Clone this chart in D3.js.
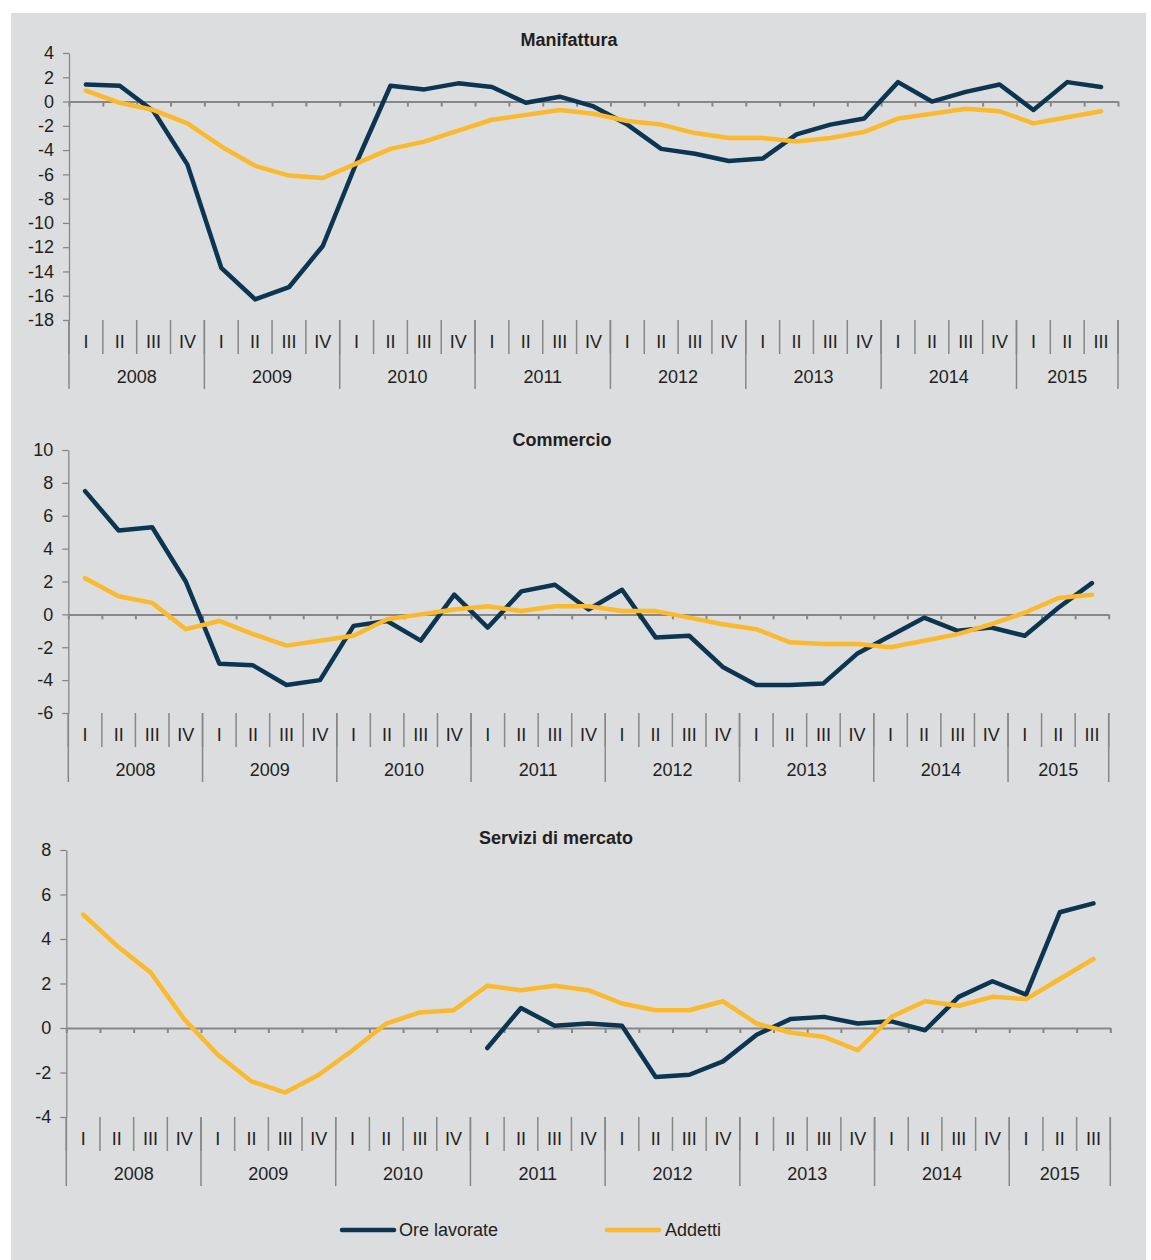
<!DOCTYPE html>
<html>
<head>
<meta charset="utf-8">
<script src="https://cdn.jsdelivr.net/npm/d3@7/dist/d3.min.js"></script>
<style>
  html, body { margin: 0; padding: 0; background: #ffffff; }
  svg { display: block; }
  text { font-family: "Liberation Sans", Arial, sans-serif; fill: #231f20; }
</style>
</head>
<body>
<svg id="chart" width="1151" height="1260"></svg>
<script>
// ---------- DATA ----------
const years = ["2008", "2009", "2010", "2011", "2012", "2013", "2014", "2015"];
const quartersPerYear = [4, 4, 4, 4, 4, 4, 4, 3];
const quarterLabels = ["I", "II", "III", "IV"];

const seriesNames = ["Ore lavorate", "Addetti"];

const titles = ["Manifattura", "Commercio", "Servizi di mercato"];

const manifatturaOre = [1.4, 1.3, -0.8, -5.2, -13.7, -16.3, -15.3, -11.9, -5.0, 1.3, 1.0, 1.5, 1.2, -0.1, 0.4, -0.4, -1.9, -3.9, -4.3, -4.9, -4.7, -2.7, -1.9, -1.4, 1.6, 0.0, 0.8, 1.4, -0.7, 1.6, 1.2];
const manifatturaAddetti = [0.9, -0.1, -0.7, -1.8, -3.7, -5.3, -6.1, -6.3, -5.1, -3.9, -3.3, -2.4, -1.5, -1.1, -0.7, -1.0, -1.6, -1.9, -2.6, -3.0, -3.0, -3.3, -3.0, -2.5, -1.4, -1.0, -0.6, -0.8, -1.8, -1.3, -0.8];

const commercioOre = [7.5, 5.1, 5.3, 2.0, -3.0, -3.1, -4.3, -4.0, -0.7, -0.4, -1.6, 1.2, -0.8, 1.4, 1.8, 0.3, 1.5, -1.4, -1.3, -3.2, -4.3, -4.3, -4.2, -2.4, -1.3, -0.2, -1.0, -0.8, -1.3, 0.4, 1.9];
const commercioAddetti = [2.2, 1.1, 0.7, -0.9, -0.4, -1.2, -1.9, -1.6, -1.3, -0.3, 0.0, 0.3, 0.5, 0.2, 0.5, 0.5, 0.2, 0.2, -0.2, -0.6, -0.9, -1.7, -1.8, -1.8, -2.0, -1.6, -1.2, -0.6, 0.1, 1.0, 1.2];

const serviziOre = [null, null, null, null, null, null, null, null, null, null, null, null, -0.9, 0.9, 0.1, 0.2, 0.1, -2.2, -2.1, -1.5, -0.3, 0.4, 0.5, 0.2, 0.3, -0.1, 1.4, 2.1, 1.5, 5.2, 5.6];
const serviziAddetti = [5.1, 3.7, 2.5, 0.4, -1.2, -2.4, -2.9, -2.1, -1.0, 0.2, 0.7, 0.8, 1.9, 1.7, 1.9, 1.7, 1.1, 0.8, 0.8, 1.2, 0.2, -0.2, -0.4, -1.0, 0.5, 1.2, 1.0, 1.4, 1.3, 2.2, 3.1];

const manifatturaTicks = [4, 2, 0, -2, -4, -6, -8, -10, -12, -14, -16, -18];
const commercioTicks = [10, 8, 6, 4, 2, 0, -2, -4, -6];
const serviziTicks = [8, 6, 4, 2, 0, -2, -4];

// ---------- STYLE / LAYOUT ----------
const colorOre = "#0b3550";
const colorAdd = "#fbb92d";
const axisColor = "#878787";
const bgColor = "#dcdddf";
const FONT = 18;

// build categories
const categories = [];
years.forEach((y, yi) => {
  for (let q = 0; q < quartersPerYear[yi]; q++) categories.push({ year: y, q: quarterLabels[q], key: y + "-" + q });
});

const svg = d3.select("#chart");
svg.append("rect").attr("x", 11).attr("y", 13).attr("width", 1135).attr("height", 1247).attr("fill", bgColor);

const panels = [
  { title: titles[0], titleX: 569, titleY: 40, x0: 69, x1: 1118, yTop: 53, yBot: 320, ticks: manifatturaTicks, ore: manifatturaOre, add: manifatturaAddetti },
  { title: titles[1], titleX: 562, titleY: 440, x0: 68.3, x1: 1108.7, yTop: 450, yBot: 713, ticks: commercioTicks, ore: commercioOre, add: commercioAddetti },
  { title: titles[2], titleX: 556, titleY: 838, x0: 66.3, x1: 1110.3, yTop: 850, yBot: 1117, ticks: serviziTicks, ore: serviziOre, add: serviziAddetti }
];

panels.forEach(p => {
  const g = svg.append("g");
  const y = d3.scaleLinear().domain([d3.min(p.ticks), d3.max(p.ticks)]).range([p.yBot, p.yTop]);
  const x = d3.scaleBand().domain(categories.map(c => c.key)).range([p.x0, p.x1]).padding(0);
  const xb = d3.scaleLinear().domain([0, categories.length]).range([p.x0, p.x1]);
  const bw = x.bandwidth();

  // title
  g.append("text").attr("x", p.titleX).attr("y", p.titleY).attr("dy", "0.35em")
    .attr("text-anchor", "middle").attr("font-weight", "bold").attr("font-size", FONT).text(p.title);

  // y axis
  const yAxis = d3.axisLeft(y).tickValues(p.ticks).tickSize(6).tickSizeOuter(0).tickPadding(9).tickFormat(d => String(d));
  const ya = g.append("g").attr("transform", `translate(${p.x0},0)`).call(yAxis);
  ya.select(".domain").attr("stroke", axisColor).attr("stroke-width", 1.3);
  ya.selectAll(".tick line").attr("stroke", axisColor).attr("stroke-width", 1.3);
  ya.selectAll(".tick text").attr("font-size", FONT).attr("fill", "#231f20")
    .style("font-family", '"Liberation Sans", Arial, sans-serif');

  // zero axis with boundary ticks
  const xAxis = d3.axisBottom(xb).tickValues(d3.range(categories.length + 1)).tickSize(5).tickSizeOuter(0).tickFormat("");
  const xa = g.append("g").attr("transform", `translate(0,${y(0)})`).call(xAxis);
  xa.select(".domain").attr("stroke", axisColor).attr("stroke-width", 2);
  xa.selectAll(".tick line").attr("stroke", axisColor).attr("stroke-width", 2);

  // category separators (quarter level)
  const rowH = 34;
  g.selectAll(".qsep").data(d3.range(categories.length + 1)).join("line")
    .attr("x1", i => xb(i)).attr("x2", i => xb(i))
    .attr("y1", p.yBot).attr("y2", p.yBot + rowH)
    .attr("stroke", axisColor).attr("stroke-width", 1.5);

  // year separators
  const yearBounds = [0];
  quartersPerYear.reduce((acc, n) => { yearBounds.push(acc + n); return acc + n; }, 0);
  g.selectAll(".ysep").data(yearBounds).join("line")
    .attr("x1", i => xb(i)).attr("x2", i => xb(i))
    .attr("y1", p.yBot).attr("y2", p.yBot + 2 * rowH + 1)
    .attr("stroke", axisColor).attr("stroke-width", 1.5);

  // quarter labels
  g.selectAll(".qlab").data(categories).join("text")
    .attr("x", c => x(c.key) + bw / 2).attr("y", p.yBot + rowH / 2 + 5).attr("dy", "0.35em")
    .attr("text-anchor", "middle").attr("font-size", FONT).text(c => c.q);

  // year labels
  g.selectAll(".ylab").data(years).join("text")
    .attr("x", (d, i) => (xb(yearBounds[i]) + xb(yearBounds[i + 1])) / 2)
    .attr("y", p.yBot + rowH * 1.5 + 6).attr("dy", "0.35em")
    .attr("text-anchor", "middle").attr("font-size", FONT).text(d => d);

  // lines
  const line = d3.line()
    .defined(d => d.v !== null)
    .x(d => x(d.k) + bw / 2)
    .y(d => y(d.v));
  const toPts = arr => arr.map((v, i) => ({ k: categories[i].key, v: v }));

  g.append("path").datum(toPts(p.ore)).attr("d", line)
    .attr("fill", "none").attr("stroke", colorOre).attr("stroke-width", 4.5)
    .attr("stroke-linejoin", "round").attr("stroke-linecap", "round");
  g.append("path").datum(toPts(p.add)).attr("d", line)
    .attr("fill", "none").attr("stroke", colorAdd).attr("stroke-width", 4.5)
    .attr("stroke-linejoin", "round").attr("stroke-linecap", "round");
});

// legend
const legend = svg.append("g");
const legendItems = [
  { name: seriesNames[0], color: colorOre, x1: 342, x2: 394, tx: 399 },
  { name: seriesNames[1], color: colorAdd, x1: 607, x2: 659, tx: 665 }
];
legendItems.forEach(it => {
  legend.append("line").attr("x1", it.x1).attr("x2", it.x2).attr("y1", 1230).attr("y2", 1230)
    .attr("stroke", it.color).attr("stroke-width", 4.5).attr("stroke-linecap", "round");
  legend.append("text").attr("x", it.tx).attr("y", 1230).attr("dy", "0.35em")
    .attr("font-size", FONT).text(it.name);
});
</script>
</body>
</html>
